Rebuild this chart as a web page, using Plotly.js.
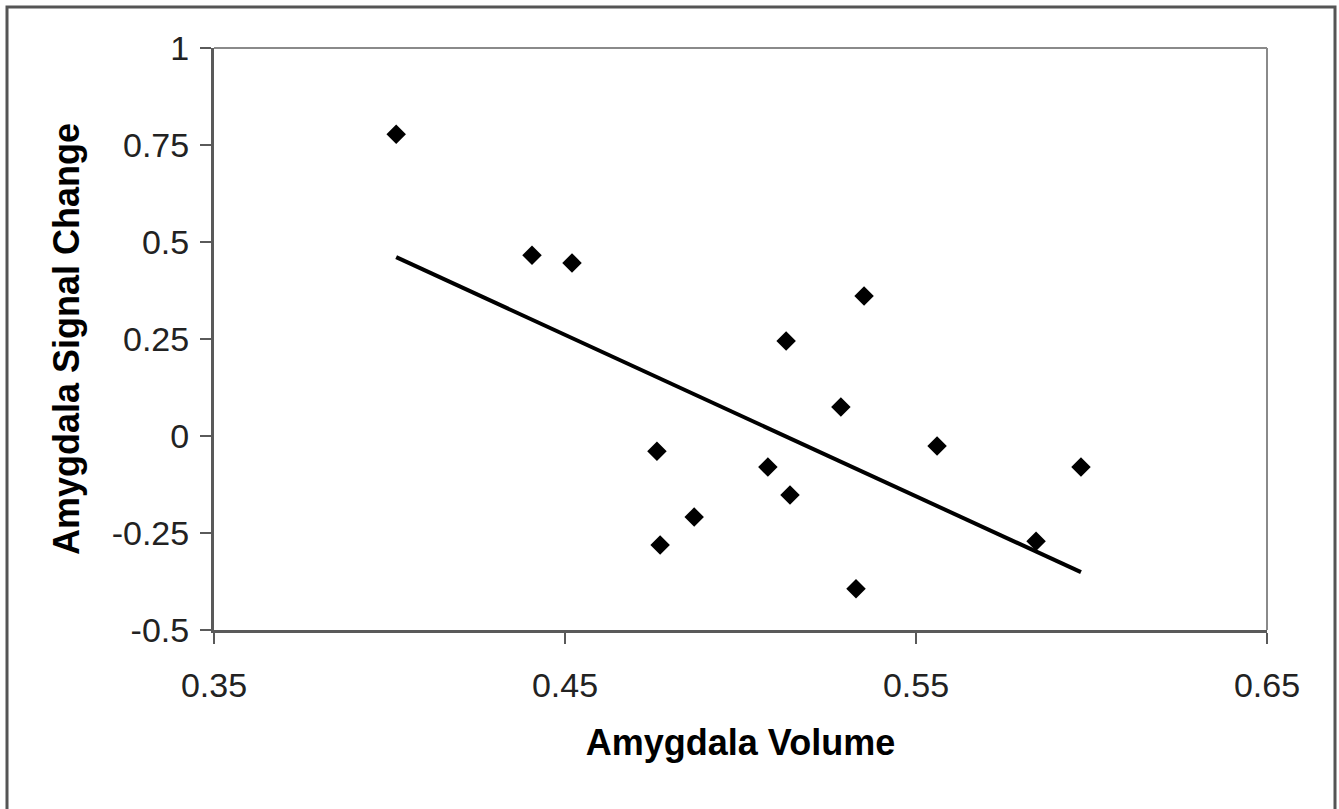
<!DOCTYPE html>
<html>
<head>
<meta charset="utf-8">
<script src="https://cdn.plot.ly/plotly-3.0.1.min.js"></script>
<style>
html,body{margin:0;padding:0;background:#fff;}
#chart{width:1339px;height:809px;}
</style>
</head>
<body>
<div id="chart"></div>
<script>
// Data
const volume = [0.4019, 0.4406, 0.4520, 0.4762, 0.4771, 0.4868, 0.5078, 0.5130, 0.5141, 0.5286, 0.5352, 0.5329, 0.5560, 0.5842, 0.5970];
const signalChange = [0.778, 0.466, 0.446, -0.039, -0.281, -0.209, -0.080, 0.245, -0.152, 0.075, 0.361, -0.394, -0.026, -0.271, -0.080];
const trendX = [0.4019, 0.5970];
const trendY = [0.461, -0.351];
const xTickVals = [0.35, 0.45, 0.55, 0.65];
const xTickText = ["0.35", "0.45", "0.55", "0.65"];
const yTickVals = [-0.5, -0.25, 0, 0.25, 0.5, 0.75, 1];
const yTickText = ["-0.5", "-0.25", "0", "0.25", "0.5", "0.75", "1"];

const traces = [
  {
    x: volume, y: signalChange, type: 'scatter', mode: 'markers',
    marker: {symbol: 'diamond', size: 15, color: '#000'},
    showlegend: false, hoverinfo: 'x+y'
  },
  {
    x: trendX, y: trendY, type: 'scatter', mode: 'lines',
    line: {color: '#000', width: 4},
    showlegend: false, hoverinfo: 'skip'
  }
];

const axisFont = {family: 'Liberation Sans, Arial, sans-serif', size: 34, color: '#222'};
const titleFont = {family: 'Liberation Sans, Arial, sans-serif', size: 36, color: '#000', weight: 'bold'};

const layout = {
  width: 1339, height: 809,
  margin: {l: 214, r: 72, t: 48, b: 179, pad: 0},
  paper_bgcolor: '#fff', plot_bgcolor: '#fff',
  showlegend: false,
  xaxis: {
    range: [0.35, 0.65], tickvals: xTickVals, ticktext: xTickText,
    showgrid: false, zeroline: false,
    showline: true, linecolor: '#5a5a5a', linewidth: 3,
    ticks: 'outside', ticklen: 11, tickwidth: 2, tickcolor: '#5a5a5a',
    tickfont: axisFont, ticklabelstandoff: 12,
    title: {text: 'Amygdala Volume', font: titleFont, standoff: 28}
  },
  yaxis: {
    range: [-0.5, 1], tickvals: yTickVals, ticktext: yTickText,
    showgrid: false, zeroline: false,
    showline: true, linecolor: '#5a5a5a', linewidth: 3,
    ticks: 'outside', ticklen: 11, tickwidth: 2, tickcolor: '#5a5a5a',
    tickfont: axisFont, ticklabelstandoff: 4,
    title: {text: 'Amygdala Signal Change', font: titleFont, standoff: 22}
  },
  shapes: [
    {type: 'line', xref: 'paper', yref: 'paper', x0: 0, x1: 1, y0: 1, y1: 1, line: {color: '#8a8a8a', width: 2}},
    {type: 'line', xref: 'paper', yref: 'paper', x0: 1, x1: 1, y0: 0, y1: 1, line: {color: '#8a8a8a', width: 2}},
    {type: 'rect', xref: 'paper', yref: 'paper',
     x0: (7 - 214) / 1053, x1: (1335 - 214) / 1053,
     y0: (630 - 830) / 582, y1: (630 - 7) / 582,
     line: {color: '#555', width: 3}, fillcolor: 'rgba(0,0,0,0)'}
  ]
};

Plotly.newPlot('chart', traces, layout, {displayModeBar: false, staticPlot: true});
</script>
</body>
</html>
